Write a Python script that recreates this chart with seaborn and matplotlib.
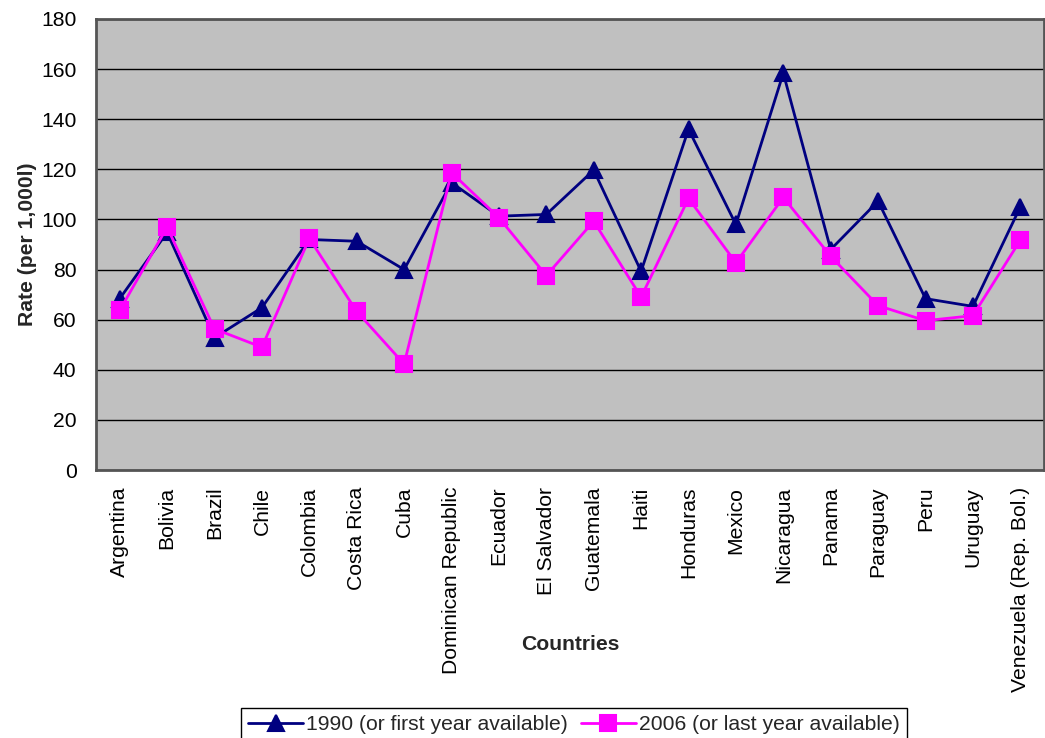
import matplotlib
matplotlib.use("Agg")
import matplotlib.pyplot as plt
import seaborn as sns
import pandas as pd

countries = ["Argentina", "Bolivia", "Brazil", "Chile", "Colombia", "Costa Rica",
             "Cuba", "Dominican Republic", "Ecuador", "El Salvador", "Guatemala",
             "Haiti", "Honduras", "Mexico", "Nicaragua", "Panama", "Paraguay",
             "Peru", "Uruguay", "Venezuela (Rep. Bol.)"]
rate_first = [68.4, 94.8, 52.8, 64.8, 92.0, 91.3, 80.0, 114.7, 101.3, 102.0,
              119.7, 79.3, 136.0, 98.0, 158.4, 88.0, 107.3, 68.4, 65.3, 105.0]
rate_last = [63.7, 96.9, 56.3, 49.0, 92.4, 63.3, 42.3, 118.7, 100.7, 77.6,
             99.3, 69.0, 108.4, 82.7, 108.8, 85.3, 65.6, 59.6, 61.6, 91.7]
series_names = ["1990 (or first year available)", "2006 (or last year available)"]
yticks = [0, 20, 40, 60, 80, 100, 120, 140, 160, 180]

df = pd.concat([
    pd.DataFrame({"Country": countries, "Rate": rate_first, "Series": series_names[0]}),
    pd.DataFrame({"Country": countries, "Rate": rate_last, "Series": series_names[1]}),
])

sns.set_theme(style="white")
plt.rcParams["font.family"] = ["Liberation Sans", "DejaVu Sans"]
FS = 15.2

fig = plt.figure(figsize=(10.45, 7.38), dpi=100)
ax = fig.add_axes([96 / 1045, 1 - 470 / 738, (1044 - 96) / 1045, (470 - 19) / 738])
ax.set_facecolor("#C0C0C0")

sns.pointplot(data=df, x="Country", y="Rate", hue="Series", order=countries,
              hue_order=series_names, palette=["#000080", "#FF00FF"],
              markers=["^", "s"], linestyles=["-", "-"], errorbar=None,
              markersize=12, linewidth=2, ax=ax, zorder=3)

ax.set_ylim(0, 180)
ax.set_xlim(-0.5, len(countries) - 0.5)
ax.set_yticks(yticks)
ax.yaxis.grid(True, color="black", linewidth=1)
ax.xaxis.grid(False)
ax.set_axisbelow(True)
for s in ax.spines.values():
    s.set_color("#555555")
    s.set_linewidth(2)

ax.tick_params(axis="y", length=0, pad=14, labelsize=FS, labelcolor="black")
ax.tick_params(axis="x", length=0, pad=12, labelsize=FS, labelcolor="black")
plt.setp(ax.get_xticklabels(), rotation=90)

ax.set_ylabel("Rate (per 1,000l)", fontsize=FS, fontweight="bold")
ax.yaxis.set_label_coords((28 - 96) / 948, 0.5)
ax.yaxis.label.set_va("center")
ax.set_xlabel("Countries", fontsize=FS, fontweight="bold")
ax.xaxis.set_label_coords((570 - 96) / 948, (470 - 645) / 451)
ax.xaxis.label.set_va("center")

handles, labels = ax.get_legend_handles_labels()
ax.legend(handles, labels, loc="upper center", bbox_to_anchor=(574 / 1045, 1 - 708 / 738),
          bbox_transform=fig.transFigure, ncol=2, frameon=True, fancybox=False,
          edgecolor="black", fontsize=FS, handlelength=2.6, handletextpad=0.15,
          columnspacing=0.6, borderpad=0.35, borderaxespad=0, framealpha=1)

fig.savefig("out.png", dpi=100)
